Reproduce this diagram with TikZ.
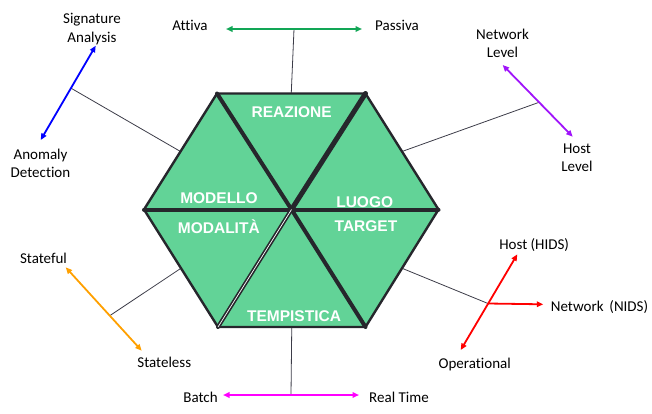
\documentclass[tikz,border=0pt]{standalone}
\usepackage{fontspec}
\setmainfont{Carlito}[Ligatures=NoCommon]
\newfontfamily\hexfont{Liberation Sans}
\usetikzlibrary{arrows.meta,calc}

\definecolor{hexfill}{RGB}{98,211,151}
\definecolor{hexline}{RGB}{38,38,44}
\definecolor{linkgray}{RGB}{60,60,72}
\definecolor{axgreen}{RGB}{18,166,86}
\definecolor{axmagenta}{RGB}{255,0,255}
\definecolor{axpurple}{RGB}{160,20,250}
\definecolor{axblue}{RGB}{0,0,255}
\definecolor{axred}{RGB}{255,0,0}
\definecolor{axorange}{RGB}{255,160,0}

\tikzset{
  sector/.style={fill=hexfill, draw=hexline, line width=2.4pt, line join=round},
  spoke/.style={draw=hexline, line width=4pt, line cap=round},
  sectorlabel/.style={text=white, font=\hexfont\bfseries\fontsize{15.5}{18}\selectfont, inner sep=0pt},
  leaf/.style={font=\fontsize{15}{18.4}\selectfont, align=center, inner sep=0pt, text=black},
  link/.style={draw=linkgray, line width=0.8pt},
  axis/.style={line width=1.8pt, {Triangle[length=6.5pt,width=5.5pt]}-{Triangle[length=6.5pt,width=5.5pt]}},
  ray/.style={line width=1.8pt, -{Triangle[length=6.5pt,width=5.5pt]}}
}

\begin{document}
\begin{tikzpicture}[x=1pt,y=-1pt]
\useasboundingbox (0,0) rectangle (652,413);

% hexagon corners
\coordinate (C)  at (291.5,209.5);
\coordinate (V1) at (217,93.5);
\coordinate (V2) at (365.5,93.5);
\coordinate (V3) at (438.5,209.5);
\coordinate (V4) at (365.5,327);
\coordinate (V5) at (218,327);
\coordinate (V6) at (144,209.5);

% ---------- axis ends ----------
% reazione
\coordinate (ga) at (226,29);
\coordinate (gb) at (362,29);
% tempistica
\coordinate (ma) at (223,395);
\coordinate (mb) at (359,395);
% modello
\coordinate (ba) at (40.7,140);
\coordinate (bb) at (95.7,45.7);
% luogo
\coordinate (pa) at (502.7,65);
\coordinate (pb) at (572.7,136.7);
% modalita
\coordinate (oa) at (65.7,267.3);
\coordinate (ob) at (141.7,350.7);
% target
\coordinate (J)  at (488,303.5);
\coordinate (ra) at (460.7,350);
\coordinate (rb) at (517.3,254.3);
\coordinate (rc) at (543.3,304.3);

% ---------- links from the hexagon to the axes ----------
\draw[link] ($(V1)!0.5!(V2)$) -- ($(ga)!0.5!(gb)$);
\draw[link] ($(V4)!0.5!(V5)$) -- ($(ma)!0.5!(mb)$);
\draw[link] ($(V6)!0.5!(V1)$) -- ($(ba)!0.55!(bb)$);
\draw[link] ($(V2)!0.5!(V3)$) -- ($(pa)!0.52!(pb)$);
\draw[link] ($(V5)!0.5!(V6)$) -- ($(oa)!0.58!(ob)$);
\draw[link] ($(V3)!0.5!(V4)$) -- (J);

% ---------- hexagon ----------
\path[sector] (C) -- (V1) -- (V2) -- cycle;
\path[sector] (C) -- (V2) -- (V3) -- cycle;
\path[sector] (C) -- (V3) -- (V4) -- cycle;
\path[sector] (C) -- (V4) -- (V5) -- cycle;
\path[sector] (C) -- (V5) -- (V6) -- cycle;
\path[sector] (C) -- (V6) -- (V1) -- cycle;
\draw[spoke] (V6) -- (V3);
\draw[spoke] (C) -- (V1);
\draw[spoke, line width=5pt] (C) -- (V2);
\draw[spoke] (C) -- (V4);
\draw[spoke] (C) -- (V5);
\draw[white, line width=0.7pt] (C) -- (V5);

\node[sectorlabel] (reazione)   at (291.7,111.7) {REAZIONE};
\node[sectorlabel] (modello)    at (219,198.3)   {MODELLO};
\node[sectorlabel] (luogo)      at (364.7,201.7) {LUOGO};
\node[sectorlabel] (modalita)   at (218.8,226.7) {MODALITÀ};
\node[sectorlabel] (target)     at (366,226)     {TARGET};
\node[sectorlabel] (tempistica) at (294,316)     {TEMPISTICA};

% ---------- axes ----------
\draw[axis, axgreen]   (ga) -- (gb);
\draw[axis, axmagenta] (ma) -- (mb);
\draw[axis, axblue]    (ba) -- (bb);
\draw[axis, axpurple]  (pa) -- (pb);
\draw[axis, axorange]  (oa) -- (ob);
\draw[axis, axred]     (ra) -- (rb);
\draw[ray, axred]      (J) -- (rc);

% ---------- axis labels ----------
\node[leaf] (attiva)    at (190,25)      {Attiva};
\node[leaf] (passiva)   at (397,25)      {Passiva};
\node[leaf] (batch)     at (200.5,397.5) {Batch};
\node[leaf] (realtime)  at (399,397.5)   {Real Time};
\node[leaf] (signature) at (92,29)       {Signature\\Analysis};
\node[leaf] (anomaly)   at (40.5,163.5)  {Anomaly\\Detection};
\node[leaf] (netlevel)  at (502.5,43.5)  {Network\\Level};
\node[leaf] (hostlevel) at (577,157.5)   {Host\\Level};
\node[leaf] (stateful)  at (43.5,258.3)  {Stateful};
\node[leaf] (stateless) at (164.3,362.7) {Stateless};
\node[leaf] (hids)      at (534.2,245)   {Host (HIDS)};
\node[leaf] (nids)      at (599.5,307.3) {Network\ \,(NIDS)};
\node[leaf] (operational) at (474.7,364) {Operational};
\end{tikzpicture}
\end{document}
